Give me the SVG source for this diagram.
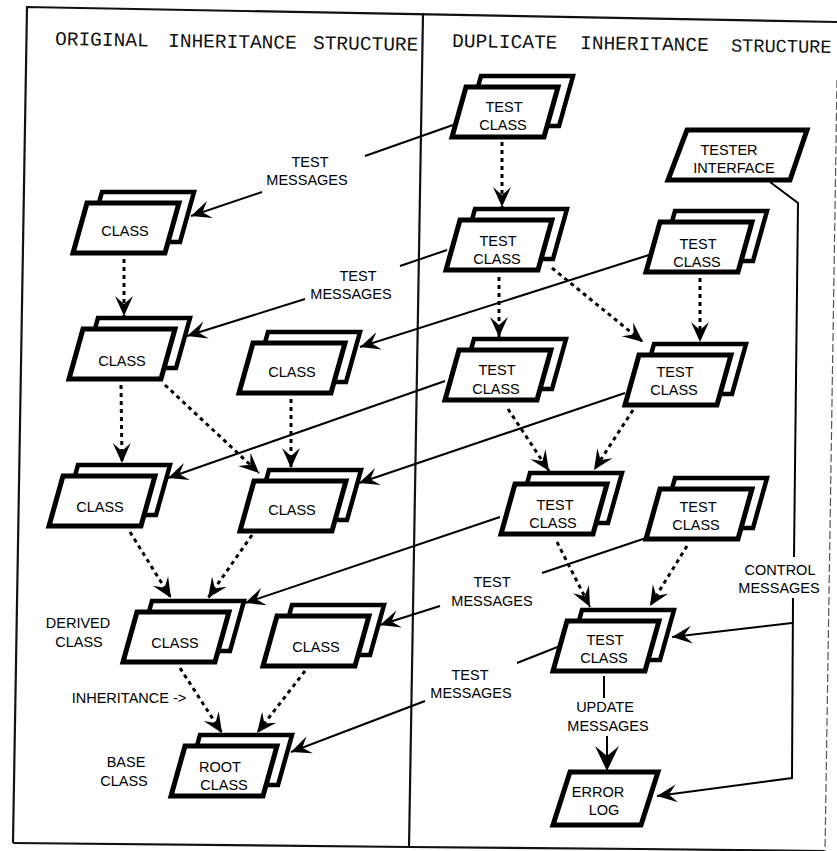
<svg xmlns="http://www.w3.org/2000/svg" width="837" height="851" viewBox="0 0 837 851">
<defs>
<style>
.frame{fill:none;stroke:#111;stroke-width:2.2}
.thin{fill:none;stroke:#555;stroke-width:1.2;stroke-dasharray:8 3}
.hdr{font-family:"Liberation Mono","Courier New",monospace;font-size:19.5px;fill:#111}
.hdr2{font-size:18.6px}
.lbl{font-family:"Liberation Sans",Arial,sans-serif;font-size:14.5px;fill:#000;text-anchor:middle}
.back,.front{fill:#fff;stroke:#000;stroke-width:5;stroke-linejoin:miter}
.back{stroke-width:4.5}
.inh{fill:none;stroke:#000;stroke-width:3;stroke-dasharray:4 4;marker-end:url(#ah)}
.msg{fill:none;stroke:#000;stroke-width:2}
.arr{marker-end:url(#ah)}
.arrb{marker-end:url(#ahb)}
</style>
<marker id="ah" markerUnits="userSpaceOnUse" viewBox="-22 -11 24 22" markerWidth="24" markerHeight="22" refX="0" refY="0" orient="auto"><path d="M0,0 L-20,-9 L-12,0 L-20,9 Z" fill="#000"/></marker>
<marker id="ahb" markerUnits="userSpaceOnUse" viewBox="-26 -13 28 26" markerWidth="28" markerHeight="26" refX="0" refY="0" orient="auto"><path d="M0,0 L-25,-12 L-15,0 L-25,12 Z" fill="#000"/></marker>
<g id="dbl">
<path class="back" d="M15,-11 H107 L93,39 H1 Z"/>
<path class="front" d="M0,0 H92 L78,50 H-14 Z"/>
</g>
</defs>
<rect width="837" height="851" fill="#fff"/>
<g id="frame">
<polyline class="frame" points="13,843 27,7 837,22"/>
<polyline class="frame" points="13,843 409,847 640,849 825,851"/>
<line class="frame" x1="423" y1="13" x2="409" y2="848"/>
<line class="thin" x1="837" y1="80" x2="825" y2="851"/>
<text class="hdr" transform="rotate(0.9 55 45)"><tspan x="55" y="45">ORIGINAL </tspan><tspan x="168" y="45">INHERITANCE </tspan><tspan x="313" y="45">STRUCTURE</tspan></text>
<text class="hdr" transform="rotate(0.9 452 47)"><tspan x="452" y="47">DUPLICATE </tspan><tspan x="580" y="47">INHERITANCE </tspan><tspan class="hdr2" x="731" y="47">STRUCTURE</tspan></text>
</g>
<g id="connectors">
<path class="inh" d="M124,259 L124,316"/>
<path class="inh" d="M121,385 L122,463"/>
<path class="inh" d="M165,385 L259,473"/>
<path class="inh" d="M291,399 L291,468"/>
<path class="inh" d="M130,532 L171,598"/>
<path class="inh" d="M252,535 L208,598"/>
<path class="inh" d="M180,668 L222,733"/>
<path class="inh" d="M305,671 L257,733"/>
<path class="inh" d="M502,142 L502,207"/>
<path class="inh" d="M499,277 L499,337"/>
<path class="inh" d="M552,268 L643,342"/>
<path class="inh" d="M700,278 L700,342"/>
<path class="inh" d="M508,409 L549,471"/>
<path class="inh" d="M633,410 L594,470"/>
<path class="inh" d="M557,542 L590,607"/>
<path class="inh" d="M687,546 L650,606"/>
<path class="msg" d="M453,125 L365,156"/>
<path class="msg arr" d="M262,192 L191,216"/>
<path class="msg" d="M447,250 L400,266"/>
<path class="msg arr" d="M305,299 L187,336"/>
<path class="msg arr" d="M652,254 L360,347"/>
<path class="msg arr" d="M445,381 L168,478"/>
<path class="msg arr" d="M625,393 L359,483"/>
<path class="msg arr" d="M500,517 L245,603"/>
<path class="msg" d="M646,538 L542,573"/>
<path class="msg arr" d="M440,606 L380,625"/>
<path class="msg" d="M560,646 L517,663"/>
<path class="msg arr" d="M425,701 L291,752"/>
<path class="msg" d="M770,182 L798,203 L794,557"/>
<path class="msg arr" d="M793,598 L792,778 L657,796"/>
<path class="msg arr" d="M792,623 L672,637"/>
<path class="msg" d="M604,676 L604,698"/>
<path class="msg arrb" d="M607,736 L607,771"/>
</g>
<g id="n1"><use href="#dbl" x="87" y="203"/><text class="lbl" x="125" y="236">CLASS</text></g>
<g id="n2"><use href="#dbl" x="83" y="329"/><text class="lbl" x="122" y="366">CLASS</text></g>
<g id="n3"><use href="#dbl" x="253" y="343"/><text class="lbl" x="292" y="377">CLASS</text></g>
<g id="n4"><use href="#dbl" x="63" y="476"/><text class="lbl" x="100" y="512">CLASS</text></g>
<g id="n5"><use href="#dbl" x="254" y="481"/><text class="lbl" x="292" y="515">CLASS</text></g>
<g id="n6"><use href="#dbl" x="137" y="612"/><text class="lbl" x="175" y="648">CLASS</text></g>
<g id="n7"><use href="#dbl" x="277" y="616"/><text class="lbl" x="316" y="652">CLASS</text></g>
<g id="n8"><use href="#dbl" x="185" y="746"/><text class="lbl"><tspan x="220" y="772">ROOT</tspan><tspan x="224" y="790">CLASS</tspan></text></g>
<g id="r1"><use href="#dbl" x="466" y="87"/><text class="lbl"><tspan x="504" y="112">TEST</tspan><tspan x="503" y="130">CLASS</tspan></text></g>
<g id="r2"><path class="front" d="M687,130 H807 L790,180 H668 Z"/><text class="lbl"><tspan x="729" y="155">TESTER</tspan><tspan x="734" y="173">INTERFACE</tspan></text></g>
<g id="r3"><use href="#dbl" x="460" y="220"/><text class="lbl"><tspan x="498" y="246">TEST</tspan><tspan x="497" y="264">CLASS</tspan></text></g>
<g id="r4"><use href="#dbl" x="660" y="222"/><text class="lbl"><tspan x="698" y="249">TEST</tspan><tspan x="697" y="267">CLASS</tspan></text></g>
<g id="r5"><use href="#dbl" x="459" y="350"/><text class="lbl"><tspan x="497" y="375">TEST</tspan><tspan x="496" y="394">CLASS</tspan></text></g>
<g id="r6"><use href="#dbl" x="639" y="355"/><text class="lbl"><tspan x="675" y="377">TEST</tspan><tspan x="674" y="395">CLASS</tspan></text></g>
<g id="r7"><use href="#dbl" x="515" y="484"/><text class="lbl"><tspan x="555" y="510">TEST</tspan><tspan x="553" y="528">CLASS</tspan></text></g>
<g id="r8"><use href="#dbl" x="660" y="489"/><text class="lbl"><tspan x="698" y="512">TEST</tspan><tspan x="696" y="530">CLASS</tspan></text></g>
<g id="r9"><use href="#dbl" x="567" y="621"/><text class="lbl"><tspan x="605" y="645">TEST</tspan><tspan x="604" y="663">CLASS</tspan></text></g>
<g id="r10"><path class="front" d="M570,772 H658 L641,825 H553 Z"/><text class="lbl"><tspan x="598" y="797">ERROR</tspan><tspan x="604" y="815">LOG</tspan></text></g>
<g id="labels">
<text class="lbl"><tspan x="310" y="167">TEST</tspan><tspan x="307" y="185">MESSAGES</tspan></text>
<text class="lbl"><tspan x="358" y="281">TEST</tspan><tspan x="351" y="299">MESSAGES</tspan></text>
<text class="lbl"><tspan x="492" y="587">TEST</tspan><tspan x="492" y="606">MESSAGES</tspan></text>
<text class="lbl"><tspan x="470" y="680">TEST</tspan><tspan x="471" y="698">MESSAGES</tspan></text>
<text class="lbl"><tspan x="780" y="575">CONTROL</tspan><tspan x="779" y="593">MESSAGES</tspan></text>
<text class="lbl"><tspan x="605" y="712">UPDATE</tspan><tspan x="608" y="731">MESSAGES</tspan></text>
<text class="lbl"><tspan x="78" y="628">DERIVED</tspan><tspan x="79" y="647">CLASS</tspan></text>
<text class="lbl" x="129" y="703">INHERITANCE -&gt;</text>
<text class="lbl"><tspan x="126" y="767">BASE</tspan><tspan x="124" y="786">CLASS</tspan></text>
</g>
</svg>
